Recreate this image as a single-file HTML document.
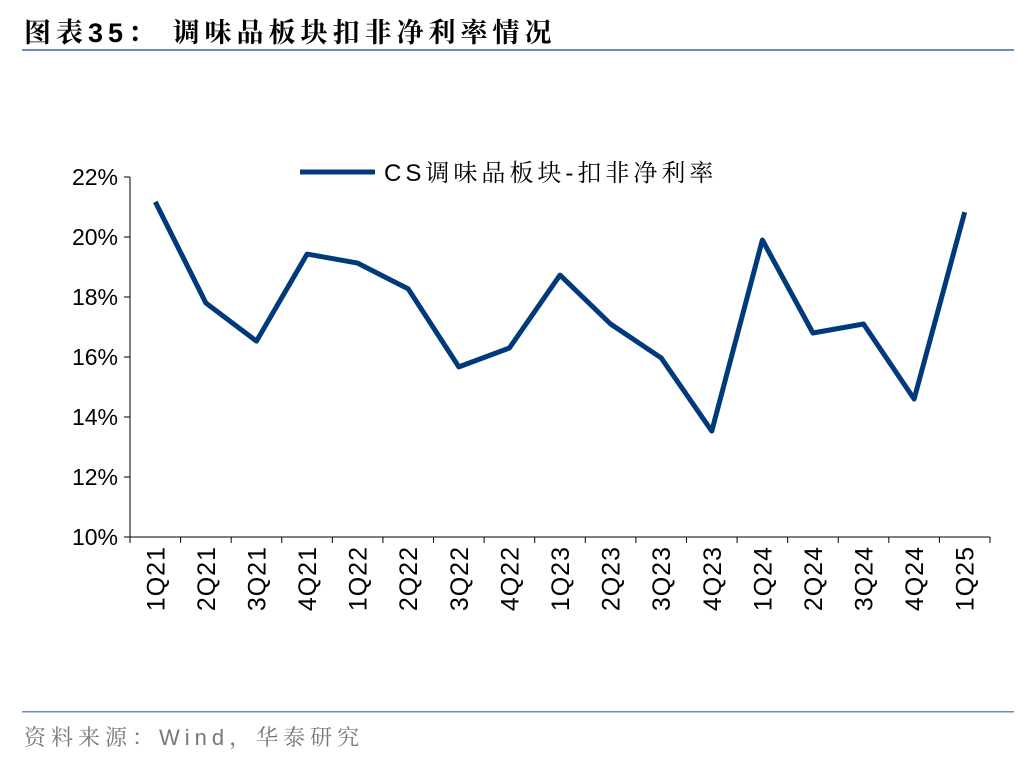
<!DOCTYPE html>
<html><head><meta charset="utf-8"><style>
body{margin:0;background:#fff;width:1036px;height:760px;overflow:hidden;font-family:"Liberation Sans","Noto Sans CJK SC",sans-serif;}
</style></head><body>
<svg width="1036" height="760" xmlns="http://www.w3.org/2000/svg">
<text x="24" y="42" font-size="27" font-weight="bold" letter-spacing="5" font-family="Liberation Sans,Noto Serif CJK SC,serif" fill="#000">图表35：  调味品板块扣非净利率情况</text>
<rect x="22" y="49" width="992" height="2" fill="#6a8cbd"/>
<rect x="22" y="711" width="992" height="1.5" fill="#6a8cbd"/>
<text x="24" y="745" font-size="22" letter-spacing="5" font-family="Liberation Sans,Noto Serif CJK SC,serif" fill="#777">资料来源：Wind，华泰研究</text>
<g id="plot"></g>
</svg>
<script>
const categories=["1Q21","2Q21","3Q21","4Q21","1Q22","2Q22","3Q22","4Q22","1Q23","2Q23","3Q23","4Q23","1Q24","2Q24","3Q24","4Q24","1Q25"];
const values=[21.17,17.8,16.53,19.43,19.13,18.27,15.67,16.3,18.73,17.1,15.97,13.53,19.9,16.8,17.1,14.6,20.83];
const yTicks=[10,12,14,16,18,20,22];
const seriesName="CS调味品板块-扣非净利率";
const NS="http://www.w3.org/2000/svg";
const g=document.getElementById('plot');
const x0=130,x1=990,y0=537,y1=177,yMin=10,yMax=22;
const bw=(x1-x0)/categories.length;
const xs=i=>x0+bw*(i+0.5);
const ys=v=>y0-(v-yMin)/(yMax-yMin)*(y0-y1);
function mk(t,a){const e=document.createElementNS(NS,t);for(const k in a)e.setAttribute(k,a[k]);g.appendChild(e);return e;}
let ax=mk('line',{x1:x0,y1:y1,x2:x0,y2:y0,stroke:'#000','stroke-width':1});


let bx=mk('line',{x1:x0,y1:y0,x2:x1,y2:y0,stroke:'#000','stroke-width':1});


yTicks.forEach(v=>{
 const y=ys(v);
 mk('line',{x1:x0-6,y1:y,x2:x0,y2:y,stroke:'#000'});
 const t=mk('text',{x:x0-12,y:y+8,'text-anchor':'end','font-size':23,fill:'#000'});
 t.textContent=v+'%';
 
 
});
for(let i=0;i<=categories.length;i++){const x=x0+bw*i;mk('line',{x1:x,y1:y0,x2:x,y2:y0+6,stroke:'#000'});}
categories.forEach((c,i)=>{
 const x=xs(i);
 const t=mk('text',{x:0,y:0,transform:`translate(${x+9},${y0+9}) rotate(-90)`,'text-anchor':'end','font-size':25,'letter-spacing':1,fill:'#000'});
 t.textContent=c;
 
 
});
const p=mk('polyline',{points:values.map((v,i)=>xs(i)+','+ys(v)).join(' '),fill:'none',stroke:'#003a7a','stroke-width':5,'stroke-linejoin':'round'});


const ll=mk('line',{x1:300,y1:172,x2:375,y2:172,stroke:'#003a7a','stroke-width':5});


const lt=mk('text',{x:384,y:181,'font-size':24,'letter-spacing':4,'font-family':'Liberation Sans,Noto Serif CJK SC,serif',fill:'#000'});
lt.textContent=seriesName;


</script>
</body></html>
